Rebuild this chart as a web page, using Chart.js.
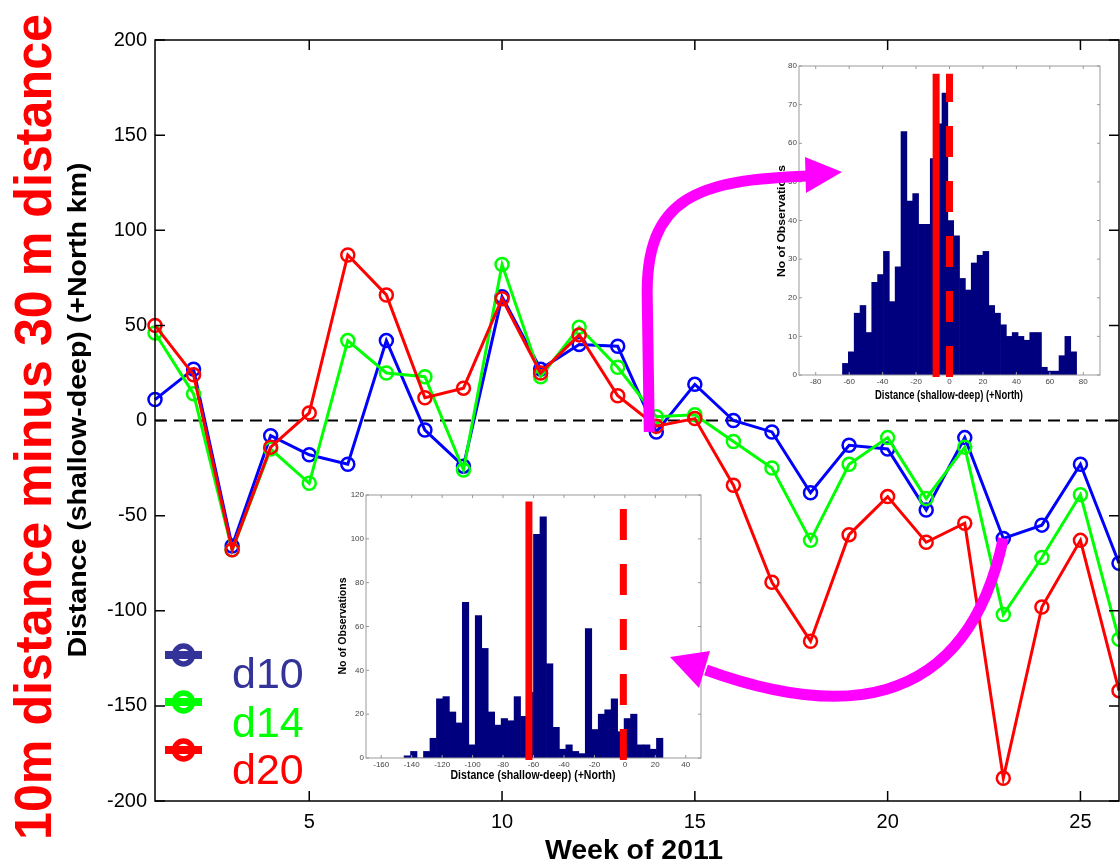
<!DOCTYPE html>
<html>
<head>
<meta charset="utf-8">
<script src="https://cdn.jsdelivr.net/npm/chart.js@4.4.1/dist/chart.umd.min.js"></script>
<style>
html, body { margin: 0; padding: 0; background: #fff; }
#wrap { position: relative; width: 1120px; height: 865px; overflow: hidden; }
.box { position: absolute; background: #fff; }
#overlay { position: absolute; left: 0; top: 0; pointer-events: none; }
</style>
</head>
<body>
<div id="wrap">
  <canvas id="main" width="1128" height="865" style="position:absolute;left:0;top:0"></canvas>
  <div class="box" style="left:770px;top:50px;width:335px;height:355px"><canvas id="hist1" width="335" height="355"></canvas></div>
  <div class="box" style="left:335px;top:480px;width:372px;height:310px"><canvas id="hist2" width="372" height="310"></canvas></div>
  <canvas id="overlay" width="1120" height="865"></canvas>
</div>
<script>
// weekly difference, shallow minus deep (km)
var weeks = [1, 2, 3, 4, 5, 6, 7, 8, 9, 10, 11, 12, 13, 14, 15, 16, 17, 18, 19, 20, 21, 22, 23, 24, 25, 26];
var d10 = [11, 27, -66, -8, -18, -23, 42, -5, -24, 65, 27, 40, 39, -6, 19, 0, -6, -38, -13, -15, -47, -9, -62, -55, -23, -75];
var d14 = [46, 14, -68, -15, -33, 42, 25, 23, -26, 82, 23, 49, 28, 2, 3, -11, -25, -63, -23, -9, -41, -14, -102, -72, -39, -115];
var d20 = [50, 24, -68, -14, 4, 87, 66, 12, 17, 64, 25, 45, 13, -3, 1, -34, -85, -116, -60, -40, -64, -54, -188, -98, -63, -142];
var xTicks = [5, 10, 15, 20, 25];
var yTicks = [-200, -150, -100, -50, 0, 50, 100, 150, 200];

// inset histograms
var hist1Start = -64, hist1Width = 3.5;
var hist1Counts = [3, 6, 16, 18, 11, 24, 26, 32, 19, 28, 63, 45, 47, 39, 39, 56, 65, 73, 40, 36, 25, 22, 29, 31, 32, 18, 16, 13, 10, 11, 10, 9, 11, 11, 2, 1, 1, 5, 10, 6];
var hist1Lines = { solid: -8, dashed: 0, top: 78 };
var hist2Start = -145, hist2Width = 4.25;
var hist2Counts = [1, 3, 0, 3, 9, 27, 28, 21, 16, 71, 6, 65, 50, 21, 15, 18, 17, 28, 19, 30, 102, 110, 43, 14, 4, 6, 3, 2, 59, 13, 20, 22, 27, 12, 18, 20, 6, 6, 4, 9];
var hist2Lines = { solid: -63, dashed: -1, top: 117 };

var FONT = "'Liberation Sans', Arial, sans-serif";

function stretchText(ctx, txt, x, y, len, font, color, rotated) {
    ctx.save();
    ctx.font = font;
    ctx.fillStyle = color;
    ctx.textAlign = "center";
    ctx.textBaseline = "alphabetic";
    var w = ctx.measureText(txt).width;
    ctx.translate(x, y);
    if (rotated) ctx.rotate(-Math.PI / 2);
    ctx.scale(len / w, 1);
    ctx.fillText(txt, 0, 0);
    ctx.restore();
}

var mainDeco = {
    id: "mainDeco",
    beforeDatasetsDraw: function (chart) {
        var ctx = chart.ctx, a = chart.chartArea, y0 = chart.scales.y.getPixelForValue(0);
        ctx.save();
        ctx.strokeStyle = "#000";
        ctx.lineWidth = 2;
        ctx.setLineDash([12, 7]);
        ctx.beginPath();
        ctx.moveTo(a.left, y0);
        ctx.lineTo(a.right, y0);
        ctx.stroke();
        ctx.restore();
    },
    afterDraw: function (chart) {
        var ctx = chart.ctx, a = chart.chartArea, sx = chart.scales.x, sy = chart.scales.y;
        ctx.save();
        ctx.strokeStyle = "#000";
        ctx.lineWidth = 1.5;
        ctx.strokeRect(a.left, a.top, a.right - a.left, a.bottom - a.top);
        ctx.beginPath();
        xTicks.forEach(function (v) {
            var px = sx.getPixelForValue(v);
            ctx.moveTo(px, a.bottom); ctx.lineTo(px, a.bottom - 10);
            ctx.moveTo(px, a.top); ctx.lineTo(px, a.top + 10);
        });
        yTicks.forEach(function (v) {
            var py = sy.getPixelForValue(v);
            ctx.moveTo(a.left, py); ctx.lineTo(a.left + 10, py);
            ctx.moveTo(a.right, py); ctx.lineTo(a.right - 10, py);
        });
        ctx.stroke();

        // titles
        stretchText(ctx, "10m distance minus 30 m distance", 51, 427, 826, "bold 52px " + FONT, "#ff0000", true);
        stretchText(ctx, "Distance (shallow-deep) (+North km)", 86, 410, 495, "bold 25px " + FONT, "#000", true);
        stretchText(ctx, "Week of 2011", 634, 859, 178, "bold 28px " + FONT, "#000", false);

        // legend
        var names = ["d10", "d14", "d20"];
        var cols = ["#333399", "#00ff00", "#ff0000"];
        var my = [655, 702, 750];
        var ty = [688, 737, 784];
        for (var i = 0; i < 3; i++) {
            ctx.strokeStyle = cols[i];
            ctx.lineWidth = 8;
            ctx.beginPath();
            ctx.moveTo(165, my[i]); ctx.lineTo(202, my[i]);
            ctx.stroke();
            ctx.lineWidth = 5.5;
            ctx.beginPath();
            ctx.arc(183.5, my[i], 9, 0, Math.PI * 2);
            ctx.stroke();
            ctx.fillStyle = cols[i];
            ctx.font = "43px " + FONT;
            ctx.textAlign = "left";
            ctx.textBaseline = "alphabetic";
            ctx.fillText(names[i], 232, ty[i]);
        }
        ctx.restore();
    }
};

function series(vals, color, order) {
    return {
        data: weeks.map(function (w, i) { return { x: w, y: vals[i] }; }),
        borderColor: color,
        backgroundColor: "rgba(0,0,0,0)",
        borderWidth: 3,
        pointRadius: 6.5,
        pointBorderWidth: 2.5,
        pointBorderColor: color,
        pointBackgroundColor: "rgba(0,0,0,0)",
        tension: 0,
        clip: false,
        order: order
    };
}

var mainChart = new Chart(document.getElementById("main"), {
    type: "line",
    data: {
        datasets: [
            series(d10, "#0000ff", 3),
            series(d14, "#00ff00", 2),
            series(d20, "#ff0000", 1)
        ]
    },
    options: {
        responsive: false,
        animation: false,
        layout: { padding: { top: 40, right: 2, left: 0, bottom: 0 } },
        plugins: { legend: { display: false }, tooltip: { enabled: false } },
        scales: {
            x: {
                type: "linear",
                min: 1,
                max: 26,
                afterBuildTicks: function (s) { s.ticks = xTicks.map(function (v) { return { value: v }; }); },
                afterFit: function (s) { s.height = 64; },
                grid: { display: false, drawTicks: false },
                border: { display: false },
                ticks: { padding: 9, color: "#000", font: { family: FONT, size: 20 }, maxRotation: 0 }
            },
            y: {
                min: -200,
                max: 200,
                afterBuildTicks: function (s) { s.ticks = yTicks.map(function (v) { return { value: v }; }); },
                afterFit: function (s) { s.width = 155; },
                grid: { display: false, drawTicks: false },
                border: { display: false },
                ticks: { padding: 8, color: "#000", font: { family: FONT, size: 20 } }
            }
        }
    },
    plugins: [mainDeco]
});

var insetDeco = {
    id: "insetDeco",
    afterDraw: function (chart, args, opts) {
        var ctx = chart.ctx, a = chart.chartArea, sx = chart.scales.x, sy = chart.scales.y;
        ctx.save();
        ctx.strokeStyle = "#999";
        ctx.lineWidth = 1;
        ctx.strokeRect(a.left, a.top, a.right - a.left, a.bottom - a.top);
        ctx.beginPath();
        sx.ticks.forEach(function (t) {
            var px = sx.getPixelForValue(t.value);
            ctx.moveTo(px, a.bottom); ctx.lineTo(px, a.bottom - 3);
            ctx.moveTo(px, a.top); ctx.lineTo(px, a.top + 3);
        });
        sy.ticks.forEach(function (t) {
            var py = sy.getPixelForValue(t.value);
            ctx.moveTo(a.left, py); ctx.lineTo(a.left + 3, py);
            ctx.moveTo(a.right, py); ctx.lineTo(a.right - 3, py);
        });
        ctx.stroke();

        var L = opts.lines;
        var yb = sy.getPixelForValue(0) + 2, yt = sy.getPixelForValue(L.top);
        ctx.strokeStyle = "#ff0000";
        ctx.lineWidth = 7;
        ctx.beginPath();
        ctx.moveTo(sx.getPixelForValue(L.solid), yb);
        ctx.lineTo(sx.getPixelForValue(L.solid), yt);
        ctx.stroke();
        ctx.setLineDash([31, 24]);
        ctx.beginPath();
        ctx.moveTo(sx.getPixelForValue(L.dashed), yb);
        ctx.lineTo(sx.getPixelForValue(L.dashed), yt);
        ctx.stroke();
        ctx.setLineDash([]);

        var t = opts.titles;
        stretchText(ctx, "No of Observations", t.yx, t.yy, t.ylen, "bold 11px " + FONT, "#000", true);
        stretchText(ctx, "Distance (shallow-deep) (+North)", t.xx, t.xy, t.xlen, "bold 12px " + FONT, "#000", false);
        ctx.restore();
    }
};

function histChart(id, start, width, counts, xr, yr, box, lines, titles) {
    var pts = counts.map(function (c, i) { return { x: start + width * (i + 0.5), y: c }; });
    return new Chart(document.getElementById(id), {
        type: "bar",
        data: {
            datasets: [{
                data: pts,
                backgroundColor: "#00007f",
                borderWidth: 0,
                categoryPercentage: 1,
                barPercentage: 1,
                grouped: false
            }]
        },
        options: {
            responsive: false,
            animation: false,
            layout: { padding: { top: box.top, right: box.right, left: 0, bottom: 0 } },
            plugins: { legend: { display: false }, tooltip: { enabled: false }, insetDeco: { lines: lines, titles: titles } },
            scales: {
                x: {
                    type: "linear",
                    min: xr[0], max: xr[1],
                    ticks: { stepSize: 20, autoSkip: false, maxRotation: 0, padding: 2, color: "#444", font: { family: FONT, size: 8 } },
                    afterFit: function (s) { s.height = box.bottom; },
                    grid: { display: false, drawTicks: false },
                    border: { display: false }
                },
                y: {
                    min: 0, max: yr[0],
                    ticks: { stepSize: yr[1], padding: 2, color: "#444", font: { family: FONT, size: 8 } },
                    afterFit: function (s) { s.width = box.left; },
                    grid: { display: false, drawTicks: false },
                    border: { display: false }
                }
            }
        },
        plugins: [insetDeco]
    });
}

histChart("hist1", hist1Start, hist1Width, hist1Counts, [-80, 80], [80, 10],
    { top: 16, right: 5, bottom: 30, left: 29 }, hist1Lines,
    { yx: 15, yy: 171, ylen: 112, xx: 179, xy: 349, xlen: 148 });
histChart("hist2", hist2Start, hist2Width, hist2Counts, [-160, 40], [120, 20],
    { top: 15, right: 6, bottom: 32, left: 31 }, hist2Lines,
    { yx: 11, yy: 146, ylen: 97, xx: 198, xy: 299, xlen: 165 });

// magenta arrows, anchored on the d10 points of weeks 14 and 23
(function () {
    var ctx = document.getElementById("overlay").getContext("2d");
    var sx = mainChart.scales.x, sy = mainChart.scales.y;
    var p14 = { x: sx.getPixelForValue(14), y: sy.getPixelForValue(d10[13]) };
    var p23 = { x: sx.getPixelForValue(23), y: sy.getPixelForValue(d10[22]) };
    ctx.strokeStyle = "#ff00ff";
    ctx.fillStyle = "#ff00ff";
    ctx.lineWidth = 11;

    ctx.beginPath();
    ctx.moveTo(p14.x - 7, p14.y);
    ctx.lineTo(p14.x - 9, 300);
    ctx.bezierCurveTo(p14.x - 12, 195, 700, 180, 808, 176);
    ctx.stroke();
    ctx.beginPath();
    ctx.moveTo(805, 157); ctx.lineTo(842, 172); ctx.lineTo(806, 193);
    ctx.closePath();
    ctx.fill();

    ctx.beginPath();
    ctx.moveTo(p23.x, p23.y);
    ctx.bezierCurveTo(965, 720, 830, 715, 706, 670);
    ctx.stroke();
    ctx.beginPath();
    ctx.moveTo(710, 651); ctx.lineTo(670, 657); ctx.lineTo(699, 688);
    ctx.closePath();
    ctx.fill();
})();
</script>
</body>
</html>
